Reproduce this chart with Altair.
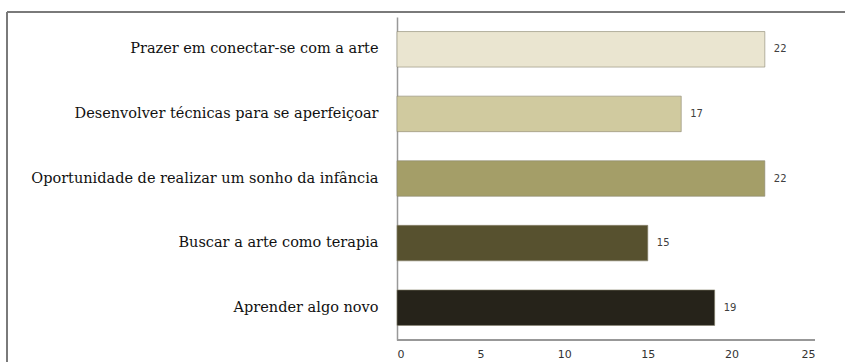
import altair as alt
import pandas as pd

categories = [
    "Prazer em conectar-se com a arte",
    "Desenvolver técnicas para se aperfeiçoar",
    "Oportunidade de realizar um sonho da infância",
    "Buscar a arte como terapia",
    "Aprender algo novo",
]
values = [22, 17, 22, 15, 19]
colors = ["#EAE5D0", "#D0CA9F", "#A49E68", "#57512F", "#26231A"]
x_ticks = [0, 5, 10, 15, 20, 25]

df = pd.DataFrame({"cat": categories, "val": values})

W, H = 418, 323

y_enc = alt.Y(
    "cat:N",
    sort=categories,
    scale=alt.Scale(paddingInner=0.45, paddingOuter=0.225),
    axis=alt.Axis(
        title=None,
        labelFont="DejaVu Serif",
        labelFontSize=14.5,
        labelColor="#111111",
        labelPadding=19,
        labelLimit=400,
        ticks=False,
        domainColor="#999999",
        domainWidth=1.5,
        grid=False,
    ),
)
x_enc = alt.X(
    "val:Q",
    scale=alt.Scale(domain=[0, 25], nice=False),
    axis=alt.Axis(
        title=None,
        values=x_ticks,
        labelFont="DejaVu Sans",
        labelFontSize=11,
        labelColor="#333333",
        labelPadding=8,
        ticks=False,
        domain=False,
        grid=False,
    ),
)

bars = alt.Chart(df).mark_bar(
    stroke="#8a8670", strokeWidth=1, strokeOpacity=0.6
).encode(
    y=y_enc,
    x=x_enc,
    color=alt.Color("cat:N", scale=alt.Scale(domain=categories, range=colors), legend=None),
)

labels = alt.Chart(df).mark_text(
    align="left", dx=9, font="DejaVu Sans", fontSize=10, color="#404040"
).encode(
    y=alt.Y("cat:N", sort=categories),
    x="val:Q",
    text="val:Q",
)

x_axis_line = alt.Chart(df).mark_rule(color="#999999", strokeWidth=1.5).encode(
    x=alt.value(0), x2=alt.value(W), y=alt.value(H)
)
frame_top = alt.Chart(df).mark_rule(color="#7a7a7a", strokeWidth=2).encode(
    x=alt.value(-390), x2=alt.value(460), y=alt.value(-5)
)
frame_left = alt.Chart(df).mark_rule(color="#7a7a7a", strokeWidth=2).encode(
    x=alt.value(-390), y=alt.value(-5), y2=alt.value(360)
)

chart = alt.layer(bars, labels, x_axis_line, frame_top, frame_left).properties(
    width=W,
    height=H,
    autosize=alt.AutoSizeParams(type="none"),
    padding={"left": 397, "top": 17, "right": 30, "bottom": 22},
).configure(background="white").configure_view(stroke=None)

chart.save("out.html", embed_options={"renderer": "svg", "actions": False})
